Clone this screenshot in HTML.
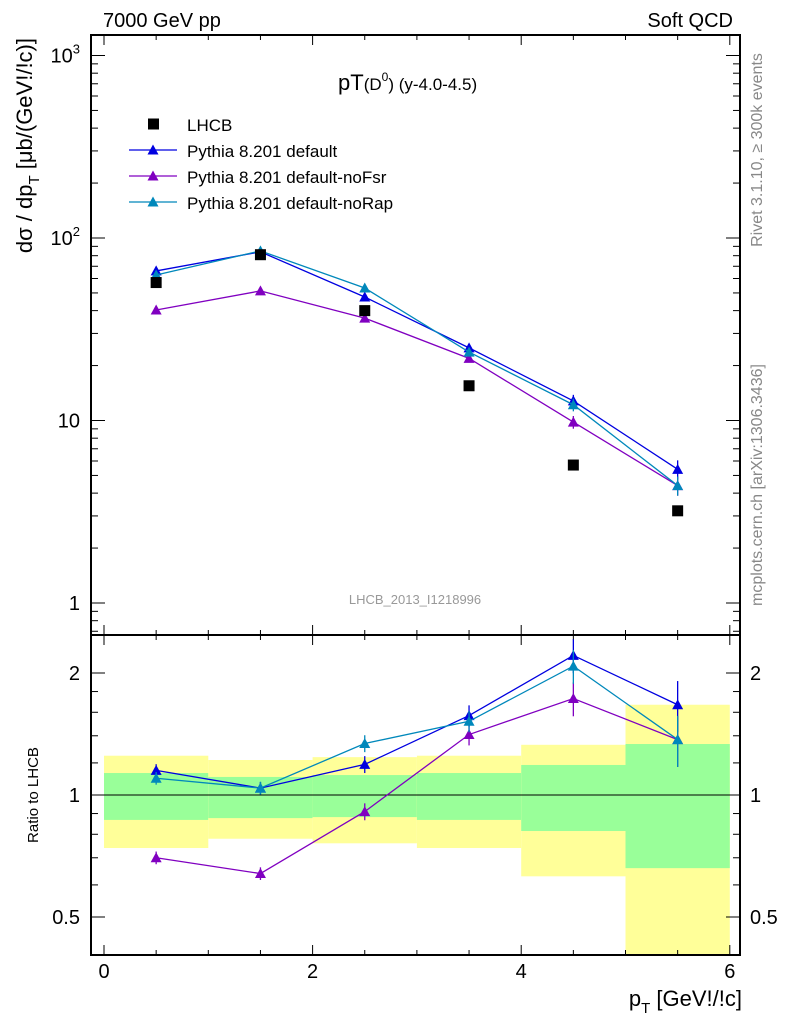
<!DOCTYPE html>
<html><head><meta charset="utf-8"><style>
body{margin:0;background:#fff;}
svg{display:block;font-family:"Liberation Sans",sans-serif;}
</style></head><body>
<svg id="c" width="786" height="1024" xmlns="http://www.w3.org/2000/svg">
<text x="103" y="27" font-size="20">7000 GeV pp</text>
<text x="733" y="27" font-size="20" text-anchor="end">Soft QCD</text>
<text x="338" y="90" font-size="22">pT<tspan font-size="17">(D</tspan><tspan font-size="12" dy="-9">0</tspan><tspan font-size="17" dy="9">) (y-4.0-4.5)</tspan></text>
<text x="415" y="604" font-size="13" fill="#999" text-anchor="middle">LHCB_2013_I1218996</text>
<text transform="translate(762,150) rotate(-90)" font-size="16" fill="#888" text-anchor="middle">Rivet 3.1.10, ≥ 300k events</text>
<text transform="translate(762,485) rotate(-90)" font-size="16" fill="#888" text-anchor="middle">mcplots.cern.ch [arXiv:1306.3436]</text>
<text transform="translate(32,38) rotate(-90)" font-size="22" text-anchor="end">dσ / dp<tspan font-size="15" dy="7">T</tspan><tspan dy="-7"> [μb/(GeV!/!c)]</tspan></text>
<text transform="translate(38,795) rotate(-90)" font-size="15" text-anchor="middle">Ratio to LHCB</text>
<text x="742" y="1006" font-size="22" text-anchor="end">p<tspan font-size="15" dy="7">T</tspan><tspan dy="-7"> [GeV!/!c]</tspan></text>
<g id="g"></g>
</svg>
<script>
const bins=[0,1,2,3,4,5,6];
const xc=[0.5,1.5,2.5,3.5,4.5,5.5];
const lhcb=[57,81,40,15.5,5.7,3.2];
const pDef=[66,84,47.5,25,12.8,5.4];
const pNoFsr=[40.3,51.3,36.4,21.9,9.8,4.4];
const pNoRap=[62.7,85,53.2,23.7,12.2,4.4];
const rDef=[1.15,1.04,1.19,1.57,2.21,1.67];
const rNoFsr=[0.70,0.64,0.91,1.41,1.73,1.37];
const rNoRap=[1.10,1.04,1.34,1.52,2.08,1.37];
const yellowHi=[1.25,1.22,1.24,1.25,1.33,1.67];
const yellowLo=[0.74,0.78,0.76,0.74,0.63,0.3];
const greenHi=[1.133,1.108,1.12,1.133,1.186,1.336];
const greenLo=[0.868,0.877,0.882,0.868,0.815,0.66];
const errRel=[0.03,0.03,0.04,0.05,0.08,0.12];
const xTicks=[0,2,4,6];
const yTicks=[1,10,100,1000];
const rTicks=[0.5,1,2];

const L=91,R=740,T=35,M=635,B=955;
const X=v=>104+v*104.3;
const Y=v=>603-Math.log10(v)*182.5;
const RY=v=>795-Math.log2(v)*122;
const NS="http://www.w3.org/2000/svg";
const g=document.getElementById('g');
function el(t,a,p){const e=document.createElementNS(NS,t);for(const k in a)e.setAttribute(k,a[k]);(p||g).appendChild(e);return e;}

for(let i=0;i<6;i++){
 const x0=X(bins[i]),x1=X(bins[i+1]);
 let e=el('rect',{x:x0,y:RY(yellowHi[i]),width:x1-x0,height:Math.min(B,RY(yellowLo[i]))-RY(yellowHi[i]),fill:'#ffff99'});
 
 e=el('rect',{x:x0,y:RY(greenHi[i]),width:x1-x0,height:RY(greenLo[i])-RY(greenHi[i]),fill:'#99ff99'});
 
}
el('line',{x1:L,x2:R,y1:RY(1),y2:RY(1),stroke:'#000','stroke-width':1});

for(const [y0,y1,n] of [[T,M,'main-frame'],[M,B,'ratio-frame']]){
 const e=el('rect',{x:L,y:y0,width:R-L,height:y1-y0,fill:'none',stroke:'#000','stroke-width':2});
 
}
for(let v=0;v<=6.01;v+=0.5){
 const maj=Math.abs(v-Math.round(v/2)*2)<1e-6, len=maj?10:5, x=X(v);
 for(const y of [M,B]) el('line',{x1:x,x2:x,y1:y,y2:y-len,stroke:'#000'});
 for(const y of [T,M]) el('line',{x1:x,x2:x,y1:y,y2:y+len,stroke:'#000'});
}
xTicks.forEach(v=>{const t=el('text',{x:X(v),y:978,'font-size':20,'text-anchor':'middle'});t.textContent=v;
});
for(let d=0.1;d<=1000;d*=10){for(let k=1;k<10;k++){const v=d*k,y=Y(v);if(y<T||y>M)continue;const len=k==1?14:7;
 el('line',{x1:L,x2:L+len,y1:y,y2:y,stroke:'#000'});el('line',{x1:R,x2:R-len,y1:y,y2:y,stroke:'#000'});}}
yTicks.forEach((v,i)=>{const t=el('text',{x:80,y:Y(v)+7,'font-size':20,'text-anchor':'end'});
 if(v>=100){t.textContent='10';const s=el('tspan',{dy:-9,'font-size':13},t);s.textContent=String(Math.round(Math.log10(v)));}
 else t.textContent=v;
 });
[0.4,0.5,0.6,0.7,0.8,0.9,1,1.2,1.4,1.6,1.8,2].forEach(v=>{const y=RY(v);if(y>B||y<M)return;const len=rTicks.includes(v)?14:7;
 el('line',{x1:L,x2:L+len,y1:y,y2:y,stroke:'#000'});el('line',{x1:R,x2:R-len,y1:y,y2:y,stroke:'#000'});});
rTicks.forEach(v=>{for(const [x,a] of [[80,'end'],[750,'start']]){const t=el('text',{x:x,y:RY(v)+7,'font-size':20,'text-anchor':a});t.textContent=v;
 }});

function tri(x,y,c){return el('path',{d:`M${x-5.5},${y+4.5}L${x+5.5},${y+4.5}L${x},${y-5.5}Z`,fill:c});}
function series(vals,fy,c,name,ratio){
 const pts=xc.map((v,i)=>X(v)+','+fy(vals[i])).join(' ');
 const l=el('polyline',{points:pts,fill:'none',stroke:c,'stroke-width':1.3});
 
 xc.forEach((v,i)=>{const x=X(v),e=errRel[i]*(ratio?1.2:1);
  el('line',{x1:x,x2:x,y1:fy(vals[i]*(1+e)),y2:fy(vals[i]*(1-e)),stroke:c,'stroke-width':1.3});
  const m=tri(x,fy(vals[i]),c);});
}
series(pNoFsr,Y,'#8000c0','nofsr',false);
series(pDef,Y,'#0000e0','default',false);
series(pNoRap,Y,'#0088bb','norap',false);
series(rNoFsr,RY,'#8000c0','ratio-nofsr',true);
series(rDef,RY,'#0000e0','ratio-default',true);
series(rNoRap,RY,'#0088bb','ratio-norap',true);
xc.forEach((v,i)=>{const s=el('rect',{x:X(v)-5.5,y:Y(lhcb[i])-5.5,width:11,height:11,fill:'#000'});
 });

const leg=[['LHCB','#000',0],['Pythia 8.201 default','#0000e0',1],['Pythia 8.201 default-noFsr','#8000c0',1],['Pythia 8.201 default-noRap','#0088bb',1]];
leg.forEach((d,i)=>{const y=124+i*26;
 if(d[2]){el('line',{x1:129,x2:177,y1:y,y2:y,stroke:d[1],'stroke-width':1.3});tri(153,y,d[1]);}
 else el('rect',{x:148,y:y-5.5,width:11,height:11,fill:'#000'});
 const t=el('text',{x:187,y:y+7,'font-size':17});t.textContent=d[0];
 });
</script>
</body></html>
